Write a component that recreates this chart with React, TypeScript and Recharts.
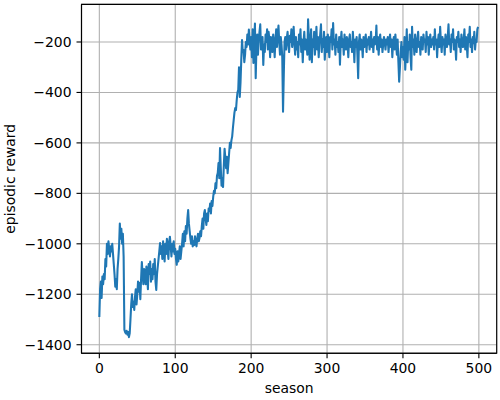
import React from 'react';
import { LineChart, Line, XAxis, YAxis, CartesianGrid, ReferenceArea } from 'recharts';

// episodic reward per season
const rewards = [
  -1290, -1180, -1150, -1215, -1130, -1160, -1120, -1140, -1060, -1090, -1000, -1040, -990, -1020, -1050, -1010, -1030, -1000, -1040, -1080,
  -1120, -1170, -1140, -1180, -1100, -1060, -1010, -920, -980, -940, -1000, -960, -1050, -1340, -1350, -1355, -1345, -1360, -1350, -1370,
  -1355, -1300, -1240, -1200, -1250, -1230, -1262, -1210, -1180, -1240, -1200, -1150, -1190, -1155, -1220, -1140, -1072, -1120, -1160, -1100,
  -1110, -1160, -1090, -1130, -1180, -1080, -1120, -1070, -1150, -1100, -1140, -1080, -1120, -1060, -1150, -1183, -1120, -1090, -1060, -1030,
  -997, -1040, -1010, -1060, -990, -1030, -1070, -1000, -1040, -980, -1020, -1060, -990, -972, -1010, -1050, -1000, -1030, -990, -1040,
  -1020, -1060, -1083, -1030, -1070, -1040, -1010, -1060, -1030, -1000, -960, -1010, -950, -990, -930, -960, -900, -866, -920, -950,
  -980, -1000, -970, -1010, -990, -1005, -970, -995, -1010, -980, -960, -990, -977, -950, -970, -930, -900, -940, -880, -866,
  -900, -925, -880, -910, -860, -870, -840, -880, -830, -850, -814, -790, -800, -760, -780, -730, -720, -680, -740, -620,
  -700, -770, -740, -775, -690, -623, -660, -700, -655, -720, -680, -640, -600, -620, -590, -575, -540, -510, -480, -462,
  -470, -430, -400, -390, -300, -418, -360, -270, -192, -240, -232, -280, -250, -200, -220, -170, -210, -151, -200, -230,
  -180, -260, -150, -283, -190, -127, -344, -220, -170, -250, -190, -160, -130, -230, -200, -180, -291, -210, -240, -170,
  -200, -150, -230, -160, -190, -260, -180, -210, -240, -170, -200, -260, -190, -150, -220, -170, -135, -200, -250, -180,
  -210, -260, -476, -330, -200, -180, -230, -185, -160, -210, -240, -175, -200, -150, -220, -190, -140, -210, -250, -180,
  -230, -200, -260, -170, -210, -150, -240, -190, -280, -200, -160, -230, -190, -210, -250, -110, -180, -270, -200, -150,
  -280, -190, -220, -160, -250, -200, -140, -230, -180, -260, -200, -170, -130, -240, -190, -220, -160, -270, -210, -180,
  -240, -170, -210, -260, -180, -200, -150, -230, -125, -210, -190, -250, -170, -220, -200, -240, -180, -290, -200, -160,
  -220, -190, -250, -170, -210, -230, -180, -200, -260, -190, -170, -220, -200, -240, -160, -210, -280, -190, -220, -180,
  -250, -344, -200, -170, -230, -190, -210, -260, -180, -220, -200, -170, -240, -190, -210, -180, -230, -200, -160, -220,
  -190, -240, -180, -210, -200, -135, -230, -180, -250, -200, -170, -220, -190, -240, -210, -180, -200, -230, -190, -210,
  -180, -240, -200, -170, -220, -190, -260, -200, -180, -230, -170, -210, -250, -190, -280, -357, -300, -240, -200, -260,
  -220, -270, -180, -310, -240, -150, -280, -200, -230, -170, -260, -310, -140, -220, -190, -250, -170, -210, -240, -190,
  -160, -220, -200, -250, -180, -210, -230, -170, -200, -190, -240, -160, -210, -180, -250, -200, -170, -220, -190, -210,
  -180, -230, -150, -210, -190, -260, -200, -170, -220, -140, -200, -240, -180, -210, -190, -250, -170, -200, -220, -180,
  -130, -210, -190, -240, -170, -200, -150, -230, -190, -210, -270, -180, -200, -160, -220, -190, -240, -170, -200, -220,
  -190, -150, -230, -180, -210, -260, -170, -200, -140, -220, -190, -240, -180, -205, -160, -230, -190, -200, -150, -140,
];

const xTicks = [0, 100, 200, 300, 400, 500];
const yTicks = [-1400, -1200, -1000, -800, -600, -400, -200];
const xDomain = [-23.5, 523.5];
const yDomain = [-1434, -51];

const data = rewards.map((r, i) => ({ season: i, reward: r }));

const font = { fontFamily: 'DejaVu Sans', fontSize: 13.9, fill: '#000' };
const fmt = (v: number) => (v < 0 ? '\u2212' + Math.abs(v) : String(v));

export default function App() {
  return (
    <div style={{ position: 'absolute', left: 0, top: 0, width: 500, height: 400, background: '#fff' }}>
      <LineChart width={500} height={400} data={data} margin={{ top: 4.4, right: 3.3, bottom: 0, left: 0 }}>
        <CartesianGrid stroke="#b0b0b0" strokeWidth={1.1} />
        <XAxis
          dataKey="season"
          type="number"
          domain={xDomain}
          ticks={xTicks}
          allowDataOverflow
          height={46.7}
          tick={font}
          tickSize={5}
          tickMargin={5}
          tickLine={{ stroke: '#000', strokeWidth: 1.1 }}
          axisLine={{ stroke: '#000', strokeWidth: 1.1 }}
          label={{ value: 'season', position: 'insideBottom', offset: 6.7, style: font }}
        />
        <YAxis
          type="number"
          domain={yDomain}
          ticks={yTicks}
          allowDataOverflow
          width={81.5}
          tick={font}
          tickFormatter={fmt}
          tickSize={5}
          tickMargin={5}
          tickLine={{ stroke: '#000', strokeWidth: 1.1 }}
          axisLine={{ stroke: '#000', strokeWidth: 1.1 }}
          label={() => (
            <text x={15.5} y={178.8} transform="rotate(-90 15.5 178.8)" textAnchor="middle" style={font}>
              episodic reward
            </text>
          )}
        />
        <ReferenceArea x1={xDomain[0]} x2={xDomain[1]} y1={yDomain[0]} y2={yDomain[1]} fill="none" stroke="#000" strokeWidth={1.1} ifOverflow="visible" />
        <Line
          type="linear"
          dataKey="reward"
          stroke="#1f77b4"
          strokeWidth={2.08}
          strokeLinejoin="round"
          dot={false}
          isAnimationActive={false}
        />
      </LineChart>
    </div>
  );
}
